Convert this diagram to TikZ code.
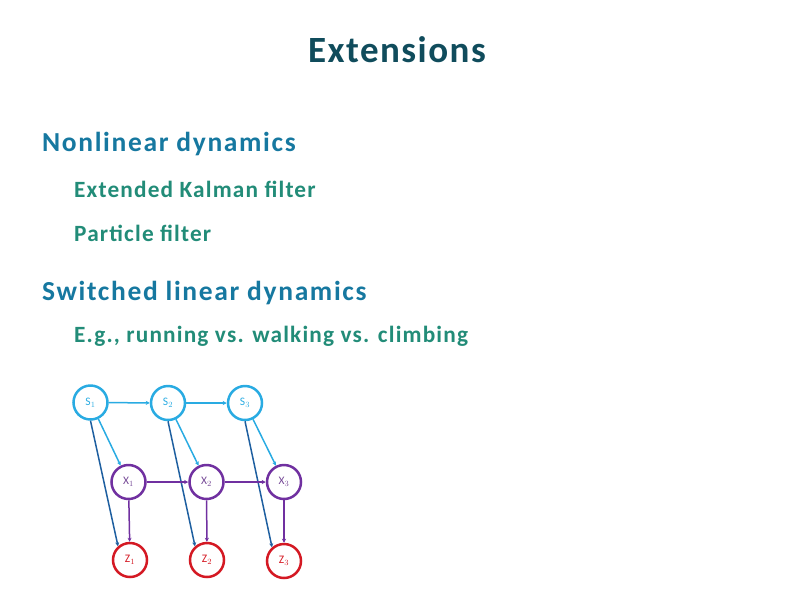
\documentclass[tikz,border=0pt]{standalone}
\usepackage{fontspec}
\setmainfont{Carlito}
\usetikzlibrary{arrows.meta}

\definecolor{titlecol}{RGB}{16,76,92}
\definecolor{headcol}{RGB}{22,120,160}
\definecolor{subcol}{RGB}{34,140,120}
\definecolor{sblue}{RGB}{41,171,226}
\definecolor{xpurple}{RGB}{112,48,160}
\definecolor{zred}{RGB}{212,25,35}
\definecolor{dblue}{RGB}{30,95,160}

\begin{document}
\begin{tikzpicture}[x=1pt,y=1pt,yscale=-1,xscale=1,
    head/.style={anchor=base west,inner sep=0pt,text=headcol,font=\fontsize{27.5}{30}\selectfont\bfseries\addfontfeature{LetterSpace=6}},
    sub/.style={anchor=base west,inner sep=0pt,text=subcol,font=\fontsize{23.3}{26}\selectfont\bfseries\addfontfeature{LetterSpace=5}},
    snode/.style={circle,draw=sblue,line width=2.5pt,minimum size=34pt,inner sep=0pt,text=sblue,font=\fontsize{11.5}{13}\selectfont},
    xnode/.style={circle,draw=xpurple,line width=2.5pt,minimum size=34pt,inner sep=0pt,text=xpurple!70!gray,font=\fontsize{11.5}{13}\selectfont},
    znode/.style={circle,draw=zred,line width=2.5pt,minimum size=34pt,inner sep=0pt,text=zred,font=\fontsize{11.5}{13}\selectfont},
    edge/.style={line width=1.5pt,-{Stealth[length=4pt,width=4pt]}}]
        %set diagram to the slide size
        \path[use as bounding box] (0,0) rectangle (794,595);

        % Text Node
        \draw (397,62) node [anchor=base,inner sep=0pt,text=titlecol,font=\fontsize{37}{40}\selectfont\bfseries\addfontfeature{LetterSpace=4}] (title) {Extensions};
        % Text Node
        \draw (42,151) node [head] (nonlin) {Nonlinear dynamics};
        % Text Node
        \draw (74,197) node [sub] (ekf) {Extended Kalman filter};
        % Text Node
        \draw (74,241) node [sub] (pf) {Particle filter};
        % Text Node
        \draw (42,300) node [head] (switched) {Switched linear dynamics};
        % Text Node
        \draw (74,342) node [sub] (eg) {E.g., running vs. walking vs. climbing};

        %Shape: Circle switch states
        \node [snode] (s1) at (90.5,402.5) {S$_1$};
        \node [snode] (s2) at (168,403) {S$_2$};
        \node [snode] (s3) at (245,403) {S$_3$};
        %Shape: Circle hidden states
        \node [xnode] (x1) at (128.5,482) {X$_1$};
        \node [xnode] (x2) at (206.5,482) {X$_2$};
        \node [xnode] (x3) at (284,482) {X$_3$};
        %Shape: Circle observations
        \node [znode] (z1) at (130,560) {Z$_1$};
        \node [znode] (z2) at (207,560) {Z$_2$};
        \node [znode] (z3) at (284,561) {Z$_3$};

        %Straight Lines switch chain
        \draw [edge,sblue] (s1) -- (s2);
        \draw [edge,sblue] (s2) -- (s3);
        %Straight Lines switch to hidden
        \draw [edge,sblue] (s1) -- (x1);
        \draw [edge,sblue] (s2) -- (x2);
        \draw [edge,sblue] (s3) -- (x3);
        %Straight Lines switch to observation
        \draw [edge,dblue] (s1.south) -- (z1.131);
        \draw [edge,dblue] (s2.south) -- (z2.131);
        \draw [edge,dblue] (s3.south) -- (z3.131);
        %Straight Lines hidden chain
        \draw [edge,xpurple] (x1) -- (x2);
        \draw [edge,xpurple] (x2) -- (x3);
        %Straight Lines hidden to observation
        \draw [edge,xpurple] (x1) -- (z1);
        \draw [edge,xpurple] (x2) -- (z2);
        \draw [edge,xpurple] (x3) -- (z3);

\end{tikzpicture}
\end{document}
